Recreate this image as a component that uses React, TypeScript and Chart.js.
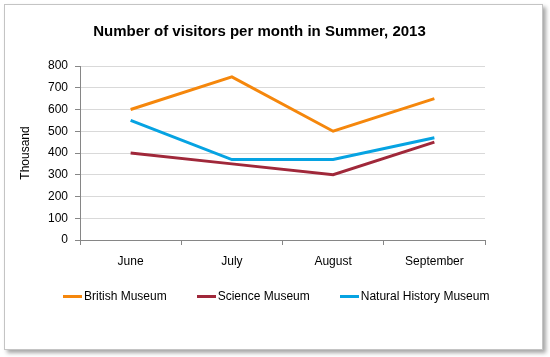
import React, { useEffect, useRef } from "react";
import { Chart, registerables } from "chart.js";

Chart.register(...registerables);

const months = ["June", "July", "August", "September"];
const britishMuseum = [600, 750, 500, 650];
const scienceMuseum = [400, 350, 300, 450];
const naturalHistoryMuseum = [550, 370, 370, 470];
const seriesNames = ["British Museum", "Science Museum", "Natural History Museum"];
const seriesColors = ["#F5870C", "#A0283A", "#06A3E2"];
const titleText = "Number of visitors per month in Summer, 2013";
const yAxisTitle = "Thousand";

const FONT = "'Liberation Sans', Arial, sans-serif";

export default function App() {
  const ref = useRef<HTMLCanvasElement | null>(null);

  useEffect(() => {
    if (!ref.current) return;
    const values = [britishMuseum, scienceMuseum, naturalHistoryMuseum];
    const chart = new Chart(ref.current, {
      type: "line",
      data: {
        labels: months,
        datasets: values.map((v, i) => ({
          label: seriesNames[i],
          data: v,
          borderColor: seriesColors[i],
          backgroundColor: seriesColors[i],
          borderWidth: 3,
          pointRadius: 0,
          tension: 0,
          yAxisID: "y",
        })),
      },
      options: {
        animation: false,
        responsive: false,
        layout: { padding: { left: 10, right: 41, top: 0, bottom: 87 } },
        plugins: {
          title: {
            display: true,
            text: titleText,
            color: "#000",
            font: { family: FONT, size: 15, weight: "bold" },
            padding: { top: 23, bottom: 25 },
          },
          legend: { display: false },
          tooltip: { enabled: false },
        },
        scales: {
          x: {
            offset: true,
            grid: {
              display: true,
              drawOnChartArea: false,
              drawTicks: true,
              tickLength: 5,
              offset: true,
              color: "#868686",
            },
            border: { color: "#868686", width: 1 },
            ticks: { color: "#000", font: { family: FONT, size: 12 }, padding: 9, maxRotation: 0 },
            afterFit: (s: any) => {
              s.height = 30;
            },
          },
          y: {
            position: "left",
            min: 0,
            max: 800,
            ticks: { stepSize: 100, color: "#000", font: { family: FONT, size: 12 }, padding: 7 },
            grid: { color: "#D9D9D9", tickColor: "#868686", tickLength: 5 },
            border: { color: "#868686", width: 1 },
            title: {
              display: true,
              text: yAxisTitle,
              color: "#000",
              font: { family: FONT, size: 12 },
              padding: { top: 8, bottom: 0 },
            },
            afterFit: (s: any) => {
              s.width = 70;
            },
          },
          spacer: {
            type: "linear",
            position: "right",
            display: true,
            grid: { display: false, drawTicks: false },
            border: { display: false },
            ticks: { display: false },
            afterFit: (s: any) => {
              s.width = 24;
            },
          },
        },
      } as any,
    });
    return () => chart.destroy();
  }, []);

  return (
    <div style={{ position: "fixed", left: 0, top: 0, width: 550, height: 357, background: "#fff", overflow: "hidden" }}>
      <div
        style={{
          position: "absolute",
          left: 4,
          top: 4,
          width: 537,
          height: 344,
          border: "1px solid #c4c4c4",
          boxShadow: "3px 3px 4px rgba(0,0,0,0.35)",
          background: "#fff",
        }}
      />
      <canvas ref={ref} width={550} height={357} style={{ position: "absolute", left: 0, top: 0, width: 550, height: 357 }} />
      <div
        style={{
          position: "absolute",
          left: 63,
          top: 288,
          height: 16,
          display: "flex",
          alignItems: "center",
          gap: 30,
          fontFamily: FONT,
          fontSize: 12,
          color: "#000",
          whiteSpace: "nowrap",
        }}
      >
        {seriesNames.map((n, i) => (
          <div key={n} style={{ display: "flex", alignItems: "center" }}>
            <span style={{ display: "inline-block", width: 19, height: 3, background: seriesColors[i], marginRight: 2 }} />
            <span>{n}</span>
          </div>
        ))}
      </div>
    </div>
  );
}
